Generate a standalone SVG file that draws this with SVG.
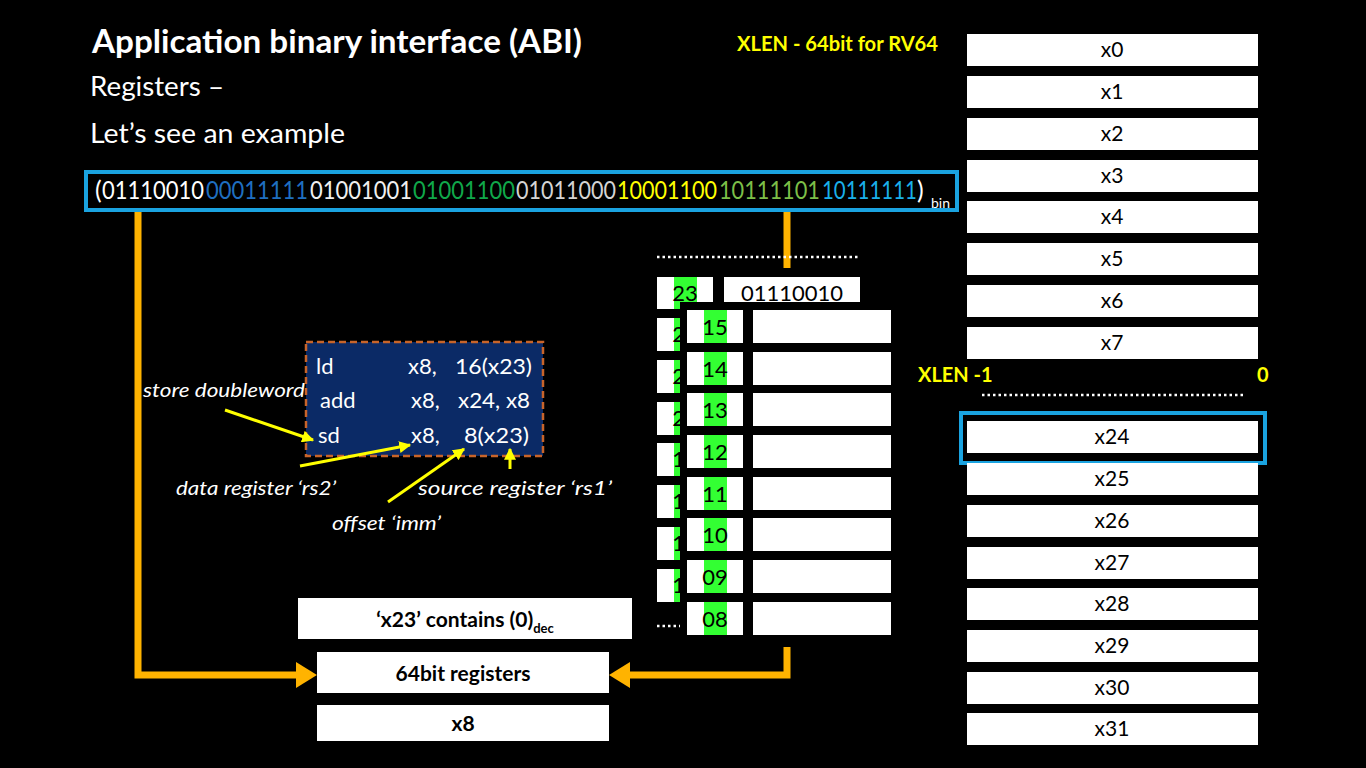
<svg xmlns="http://www.w3.org/2000/svg" width="1366" height="768" viewBox="0 0 1366 768">
<defs>
<style>
.t{font-family:Lato,"Open Sans","Liberation Sans",sans-serif}
.w{fill:#fff}
.box{fill:#fff}
.rt{font-family:Lato,"Open Sans","Liberation Sans",sans-serif;font-size:21px;fill:#000;text-anchor:middle}
.nt{font-family:Lato,"Open Sans","Liberation Sans",sans-serif;font-size:22px;fill:#000;text-anchor:middle}
.bin{font-family:Lato,"Open Sans","Liberation Sans",sans-serif;font-size:25px}
.code{font-family:Lato,"Open Sans","Liberation Sans",sans-serif;font-size:22px;fill:#fff}
.ann{font-family:Lato,"Open Sans","Liberation Sans",sans-serif;font-size:20px;fill:#fff;font-style:italic}
.bt{font-family:Lato,"Open Sans","Liberation Sans",sans-serif;font-size:21px;fill:#000;font-weight:bold;text-anchor:middle}
.yel{font-family:Lato,"Open Sans","Liberation Sans",sans-serif;font-size:20px;fill:#ffff00;font-weight:bold}
.org{stroke:#ffb300;stroke-width:7;fill:none}
.ya{stroke:#ffff00;stroke-width:3;fill:none;marker-end:url(#yh)}
.dot{stroke:#fff;stroke-width:2.5;stroke-dasharray:2.5 3}
.g{fill:#33ff33}
</style>
<marker id="yh" viewBox="0 0 10 10" refX="9" refY="5" markerWidth="4" markerHeight="4" orient="auto" markerUnits="strokeWidth"><path d="M0,0 L10,5 L0,10 z" fill="#ffff00"/></marker>
</defs>
<rect width="1366" height="768" fill="#000"/>

<g id="title">
<text class="t w" x="92" y="53" font-size="32" font-weight="bold" textLength="490" lengthAdjust="spacingAndGlyphs">Application binary interface (ABI)</text>
<text class="t w" x="90" y="96" font-size="27" textLength="134" lengthAdjust="spacingAndGlyphs">Registers –</text>
<text class="t w" x="90" y="143" font-size="27" textLength="255" lengthAdjust="spacingAndGlyphs">Let’s see an example</text>
<text class="yel" x="737" y="51" textLength="201" lengthAdjust="spacingAndGlyphs">XLEN - 64bit for RV64</text>
</g>

<g id="connectors">
<path class="org" d="M138,211 V675 H298"/>
<polygon points="296,662 296,688 317,675" fill="#ffb300"/>
<path class="org" d="M787,211 V268"/>
<path class="org" d="M787,645 V675 H628"/>
<polygon points="630,662 630,688 609,675" fill="#ffb300"/>
</g>

<g id="binary">
<rect x="86" y="172" width="871" height="38" fill="none" stroke="#1aa3e0" stroke-width="4"/>
<text class="bin" x="95" y="199" fill="#fff">(</text>
<text class="bin" x="102" y="199" fill="#fff" textLength="102" lengthAdjust="spacingAndGlyphs">01110010</text>
<text class="bin" x="206" y="199" fill="#1f6fc0" textLength="102" lengthAdjust="spacingAndGlyphs">00011111</text>
<text class="bin" x="310" y="199" fill="#f0f0f0" textLength="102" lengthAdjust="spacingAndGlyphs">01001001</text>
<text class="bin" x="413" y="199" fill="#10a84a" textLength="102" lengthAdjust="spacingAndGlyphs">01001100</text>
<text class="bin" x="516" y="199" fill="#d4d4d4" textLength="100" lengthAdjust="spacingAndGlyphs">01011000</text>
<text class="bin" x="617" y="199" fill="#ffff00" textLength="100" lengthAdjust="spacingAndGlyphs">10001100</text>
<text class="bin" x="719" y="199" fill="#7cbf48" textLength="101" lengthAdjust="spacingAndGlyphs">10111101</text>
<text class="bin" x="822" y="199" fill="#1ab0ea" textLength="95" lengthAdjust="spacingAndGlyphs">10111111</text>
<text class="bin" x="917" y="199" fill="#fff">)</text>
<text class="t" x="931" y="208" font-size="14" fill="#fff">bin</text>
</g>

<g id="registers">
<rect class="box" x="967" y="34" width="291" height="32"/><text class="rt" x="1112" y="57">x0</text>
<rect class="box" x="967" y="76" width="291" height="32"/><text class="rt" x="1112" y="99">x1</text>
<rect class="box" x="967" y="118" width="291" height="32"/><text class="rt" x="1112" y="141">x2</text>
<rect class="box" x="967" y="160" width="291" height="32"/><text class="rt" x="1112" y="183">x3</text>
<rect class="box" x="967" y="201" width="291" height="32"/><text class="rt" x="1112" y="224">x4</text>
<rect class="box" x="967" y="243" width="291" height="32"/><text class="rt" x="1112" y="266">x5</text>
<rect class="box" x="967" y="285" width="291" height="32"/><text class="rt" x="1112" y="308">x6</text>
<rect class="box" x="967" y="327" width="291" height="32"/><text class="rt" x="1112" y="350">x7</text>
<text class="yel" x="918" y="382">XLEN -1</text>
<text class="yel" x="1257" y="382">0</text>
<line class="dot" x1="982" y1="395" x2="1245" y2="395"/>
<rect x="961" y="413" width="304" height="50" fill="none" stroke="#1aa3e0" stroke-width="4"/>
<rect class="box" x="967" y="421" width="291" height="32"/><text class="rt" x="1112" y="444">x24</text>
<rect class="box" x="967" y="463" width="291" height="32"/><text class="rt" x="1112" y="486">x25</text>
<rect class="box" x="967" y="505" width="291" height="32"/><text class="rt" x="1112" y="528">x26</text>
<rect class="box" x="967" y="547" width="291" height="32"/><text class="rt" x="1112" y="570">x27</text>
<rect class="box" x="967" y="588" width="291" height="32"/><text class="rt" x="1112" y="611">x28</text>
<rect class="box" x="967" y="630" width="291" height="32"/><text class="rt" x="1112" y="653">x29</text>
<rect class="box" x="967" y="672" width="291" height="32"/><text class="rt" x="1112" y="695">x30</text>
<rect class="box" x="967" y="713" width="291" height="32"/><text class="rt" x="1112" y="736">x31</text>
</g>

<g id="memory-back">
<line class="dot" x1="657" y1="257" x2="858" y2="257"/>
<rect class="box" x="657" y="277" width="56" height="32"/><rect class="g" x="674" y="277" width="23" height="32"/><text class="nt" x="685" y="301">23</text>
<rect class="box" x="724" y="277" width="136" height="32"/><text class="nt" x="792" y="301">01110010</text>
<rect class="box" x="657" y="318" width="56" height="33"/><rect class="g" x="674" y="318" width="23" height="33"/><text class="nt" x="685" y="342">22</text>
<rect class="box" x="657" y="360" width="56" height="33"/><rect class="g" x="674" y="360" width="23" height="33"/><text class="nt" x="685" y="384">21</text>
<rect class="box" x="657" y="402" width="56" height="33"/><rect class="g" x="674" y="402" width="23" height="33"/><text class="nt" x="685" y="426">20</text>
<rect class="box" x="657" y="443" width="56" height="33"/><rect class="g" x="674" y="443" width="23" height="33"/><text class="nt" x="685" y="467">19</text>
<rect class="box" x="657" y="485" width="56" height="33"/><rect class="g" x="674" y="485" width="23" height="33"/><text class="nt" x="685" y="509">18</text>
<rect class="box" x="657" y="527" width="56" height="33"/><rect class="g" x="674" y="527" width="23" height="33"/><text class="nt" x="685" y="551">17</text>
<rect class="box" x="657" y="569" width="56" height="33"/><rect class="g" x="674" y="569" width="23" height="33"/><text class="nt" x="685" y="593">16</text>
<line class="dot" x1="657" y1="626" x2="680" y2="626"/>
<rect x="680" y="302" width="220" height="345" fill="#000"/>
</g>

<g id="memory-front">
<rect class="box" x="687" y="310" width="56" height="33"/><rect class="g" x="704" y="310" width="23" height="33"/><text class="nt" x="715" y="335">15</text><rect class="box" x="753" y="310" width="138" height="33"/>
<rect class="box" x="687" y="352" width="56" height="33"/><rect class="g" x="704" y="352" width="23" height="33"/><text class="nt" x="715" y="377">14</text><rect class="box" x="753" y="352" width="138" height="33"/>
<rect class="box" x="687" y="393" width="56" height="33"/><rect class="g" x="704" y="393" width="23" height="33"/><text class="nt" x="715" y="418">13</text><rect class="box" x="753" y="393" width="138" height="33"/>
<rect class="box" x="687" y="435" width="56" height="33"/><rect class="g" x="704" y="435" width="23" height="33"/><text class="nt" x="715" y="460">12</text><rect class="box" x="753" y="435" width="138" height="33"/>
<rect class="box" x="687" y="477" width="56" height="33"/><rect class="g" x="704" y="477" width="23" height="33"/><text class="nt" x="715" y="502">11</text><rect class="box" x="753" y="477" width="138" height="33"/>
<rect class="box" x="687" y="518" width="56" height="33"/><rect class="g" x="704" y="518" width="23" height="33"/><text class="nt" x="715" y="543">10</text><rect class="box" x="753" y="518" width="138" height="33"/>
<rect class="box" x="687" y="560" width="56" height="33"/><rect class="g" x="704" y="560" width="23" height="33"/><text class="nt" x="715" y="585">09</text><rect class="box" x="753" y="560" width="138" height="33"/>
<rect class="box" x="687" y="602" width="56" height="33"/><rect class="g" x="704" y="602" width="23" height="33"/><text class="nt" x="715" y="627">08</text><rect class="box" x="753" y="602" width="138" height="33"/>
</g>

<g id="code">
<rect x="306" y="342" width="237" height="114" fill="#0b2a66" stroke="#c8642a" stroke-width="2.5" stroke-dasharray="7 4"/>
<text class="code" x="316" y="374">ld</text><text class="code" x="408" y="374">x8,</text><text class="code" x="455" y="374" textLength="77" lengthAdjust="spacingAndGlyphs">16(x23)</text>
<text class="code" x="320" y="408">add</text><text class="code" x="411" y="408">x8,</text><text class="code" x="458" y="408" textLength="72" lengthAdjust="spacingAndGlyphs">x24, x8</text>
<text class="code" x="318" y="443">sd</text><text class="code" x="411" y="443">x8,</text><text class="code" x="464" y="443" textLength="65" lengthAdjust="spacingAndGlyphs">8(x23)</text>
</g>

<g id="annotations">
<text class="ann" x="143" y="397" textLength="162" lengthAdjust="spacingAndGlyphs">store doubleword</text>
<line class="ya" x1="225" y1="410" x2="313" y2="440"/>
<text class="ann" x="176" y="495" textLength="160" lengthAdjust="spacingAndGlyphs">data register ‘rs2’</text>
<line class="ya" x1="300" y1="466" x2="410" y2="445"/>
<text class="ann" x="418" y="495" textLength="194" lengthAdjust="spacingAndGlyphs">source register ‘rs1’</text>
<line class="ya" x1="510" y1="469" x2="510" y2="449"/>
<text class="ann" x="332" y="530" textLength="109" lengthAdjust="spacingAndGlyphs">offset ‘imm’</text>
<line class="ya" x1="388" y1="502" x2="464" y2="449"/>
</g>

<g id="x23-box">
<rect class="box" x="298" y="598" width="334" height="41"/>
<text class="bt" x="465" y="627">‘x23’ contains (0)<tspan font-size="13" dy="6">dec</tspan></text>
</g>
<g id="reg64-box">
<rect class="box" x="317" y="652" width="292" height="41"/>
<text class="bt" x="463" y="681">64bit registers</text>
</g>
<g id="x8-box">
<rect class="box" x="317" y="705" width="292" height="36"/>
<text class="bt" x="463" y="731">x8</text>
</g>
</svg>
